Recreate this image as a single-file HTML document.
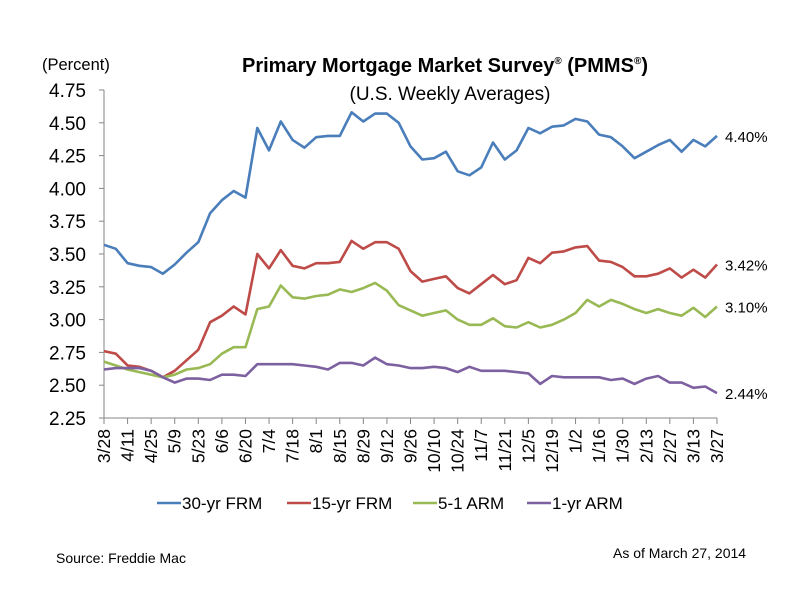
<!DOCTYPE html>
<html><head><meta charset="utf-8"><style>
body{margin:0;background:#fff;}
svg text{font-family:"Liberation Sans",sans-serif;fill:#000;}
</style></head><body>
<svg id="chart" width="800" height="600" viewBox="0 0 800 600" xmlns="http://www.w3.org/2000/svg">
<text x="445" y="72" text-anchor="middle" font-size="20" font-weight="bold">Primary Mortgage Market Survey<tspan font-size="10" dy="-8">®</tspan><tspan dy="8"> (PMMS</tspan><tspan font-size="10" dy="-8">®</tspan><tspan dy="8">)</tspan></text>
<text x="450" y="100" text-anchor="middle" font-size="19">(U.S. Weekly Averages)</text>
<text x="42" y="70" font-size="16.5">(Percent)</text>
<g id="yaxis"></g>
<g id="xaxis"></g>
<g id="series"></g>
<g id="legend"></g>
<text x="56" y="563" font-size="14">Source: Freddie Mac</text>
<text x="613" y="558" font-size="14">As of March 27, 2014</text>
</svg>
<script>
const yTicks=[2.25,2.50,2.75,3.00,3.25,3.50,3.75,4.00,4.25,4.50,4.75];
const xLabels=["3/28","4/11","4/25","5/9","5/23","6/6","6/20","7/4","7/18","8/1","8/15","8/29","9/12","9/26","10/10","10/24","11/7","11/21","12/5","12/19","1/2","1/16","1/30","2/13","2/27","3/13","3/27"];
const seriesNames=["30-yr FRM","15-yr FRM","5-1 ARM","1-yr ARM"];
const frm30=[3.57,3.54,3.43,3.41,3.40,3.35,3.42,3.51,3.59,3.81,3.91,3.98,3.93,4.46,4.29,4.51,4.37,4.31,4.39,4.40,4.40,4.58,4.51,4.57,4.57,4.50,4.32,4.22,4.23,4.28,4.13,4.10,4.16,4.35,4.22,4.29,4.46,4.42,4.47,4.48,4.53,4.51,4.41,4.39,4.32,4.23,4.28,4.33,4.37,4.28,4.37,4.32,4.40];
const frm15=[2.76,2.74,2.65,2.64,2.61,2.56,2.61,2.69,2.77,2.98,3.03,3.10,3.04,3.50,3.39,3.53,3.41,3.39,3.43,3.43,3.44,3.60,3.54,3.59,3.59,3.54,3.37,3.29,3.31,3.33,3.24,3.20,3.27,3.34,3.27,3.30,3.47,3.43,3.51,3.52,3.55,3.56,3.45,3.44,3.40,3.33,3.33,3.35,3.39,3.32,3.38,3.32,3.42];
const arm51=[2.68,2.65,2.62,2.60,2.58,2.56,2.58,2.62,2.63,2.66,2.74,2.79,2.79,3.08,3.10,3.26,3.17,3.16,3.18,3.19,3.23,3.21,3.24,3.28,3.22,3.11,3.07,3.03,3.05,3.07,3.00,2.96,2.96,3.01,2.95,2.94,2.98,2.94,2.96,3.00,3.05,3.15,3.10,3.15,3.12,3.08,3.05,3.08,3.05,3.03,3.09,3.02,3.10];
const arm1=[2.62,2.63,2.63,2.63,2.61,2.56,2.52,2.55,2.55,2.54,2.58,2.58,2.57,2.66,2.66,2.66,2.66,2.65,2.64,2.62,2.67,2.67,2.65,2.71,2.66,2.65,2.63,2.63,2.64,2.63,2.60,2.64,2.61,2.61,2.61,2.60,2.59,2.51,2.57,2.56,2.56,2.56,2.56,2.54,2.55,2.51,2.55,2.57,2.52,2.52,2.48,2.49,2.44];
const colors=["#4a7ebb","#be4b48","#98b954","#7d60a0"];
const NS="http://www.w3.org/2000/svg";
const X0=104,X1=717,Y0=418,Y1=90,YMIN=2.25,YMAX=4.75;
const N=frm30.length;
function xs(i){return X0+i*(X1-X0)/(N-1);}
function ys(v){return Y0-(v-YMIN)/(YMAX-YMIN)*(Y0-Y1);}
function mk(tag,attrs,parent){const e=document.createElementNS(NS,tag);for(const k in attrs)e.setAttribute(k,attrs[k]);parent.appendChild(e);return e;}
const ya=document.getElementById('yaxis');
let l=mk('line',{x1:X0,y1:Y0,x2:X0,y2:Y1,stroke:'#868686','stroke-width':1},ya);


yTicks.forEach(v=>{
 const t=mk('line',{x1:X0-5,y1:ys(v),x2:X0,y2:ys(v),stroke:'#868686'},ya);
 
 
 const tx=mk('text',{x:86,y:ys(v)+7,'text-anchor':'end','font-size':19},ya);
 tx.textContent=v.toFixed(2);
 
 
});
const xa=document.getElementById('xaxis');
l=mk('line',{x1:X0,y1:Y0,x2:X1,y2:Y0,stroke:'#868686'},xa);


xLabels.forEach((lab,k)=>{
 const x=xs(k*2);
 const t=mk('line',{x1:x,y1:Y0,x2:x,y2:Y0+6,stroke:'#868686'},xa);
 
 
 const tx=mk('text',{x:0,y:0,'text-anchor':'end','font-size':17.5,transform:`translate(${x+6},${Y0+11}) rotate(-90)`},xa);
 tx.textContent=lab;
 
 
});
const sg=document.getElementById('series');
[frm30,frm15,arm51,arm1].forEach((d,si)=>{
 const p=mk('polyline',{points:d.map((v,i)=>xs(i).toFixed(1)+','+ys(v).toFixed(1)).join(' '),fill:'none',stroke:colors[si],'stroke-width':2.6,'stroke-linejoin':'round'},sg);
 
 
 const last=d[d.length-1];
 const tx=mk('text',{x:725,y:ys(last)+6,'font-size':15},sg);
 tx.textContent=last.toFixed(2)+'%';
 
 
});
const lg=document.getElementById('legend');
const lx=[157,287,413,527];
seriesNames.forEach((n,i)=>{
 const ln=mk('line',{x1:lx[i],y1:503,x2:lx[i]+24,y2:503,stroke:colors[i],'stroke-width':2.6},lg);
 
 
 const tx=mk('text',{x:lx[i]+25,y:509,'font-size':17},lg);
 tx.textContent=n;
 
 
});
</script>
</body></html>
